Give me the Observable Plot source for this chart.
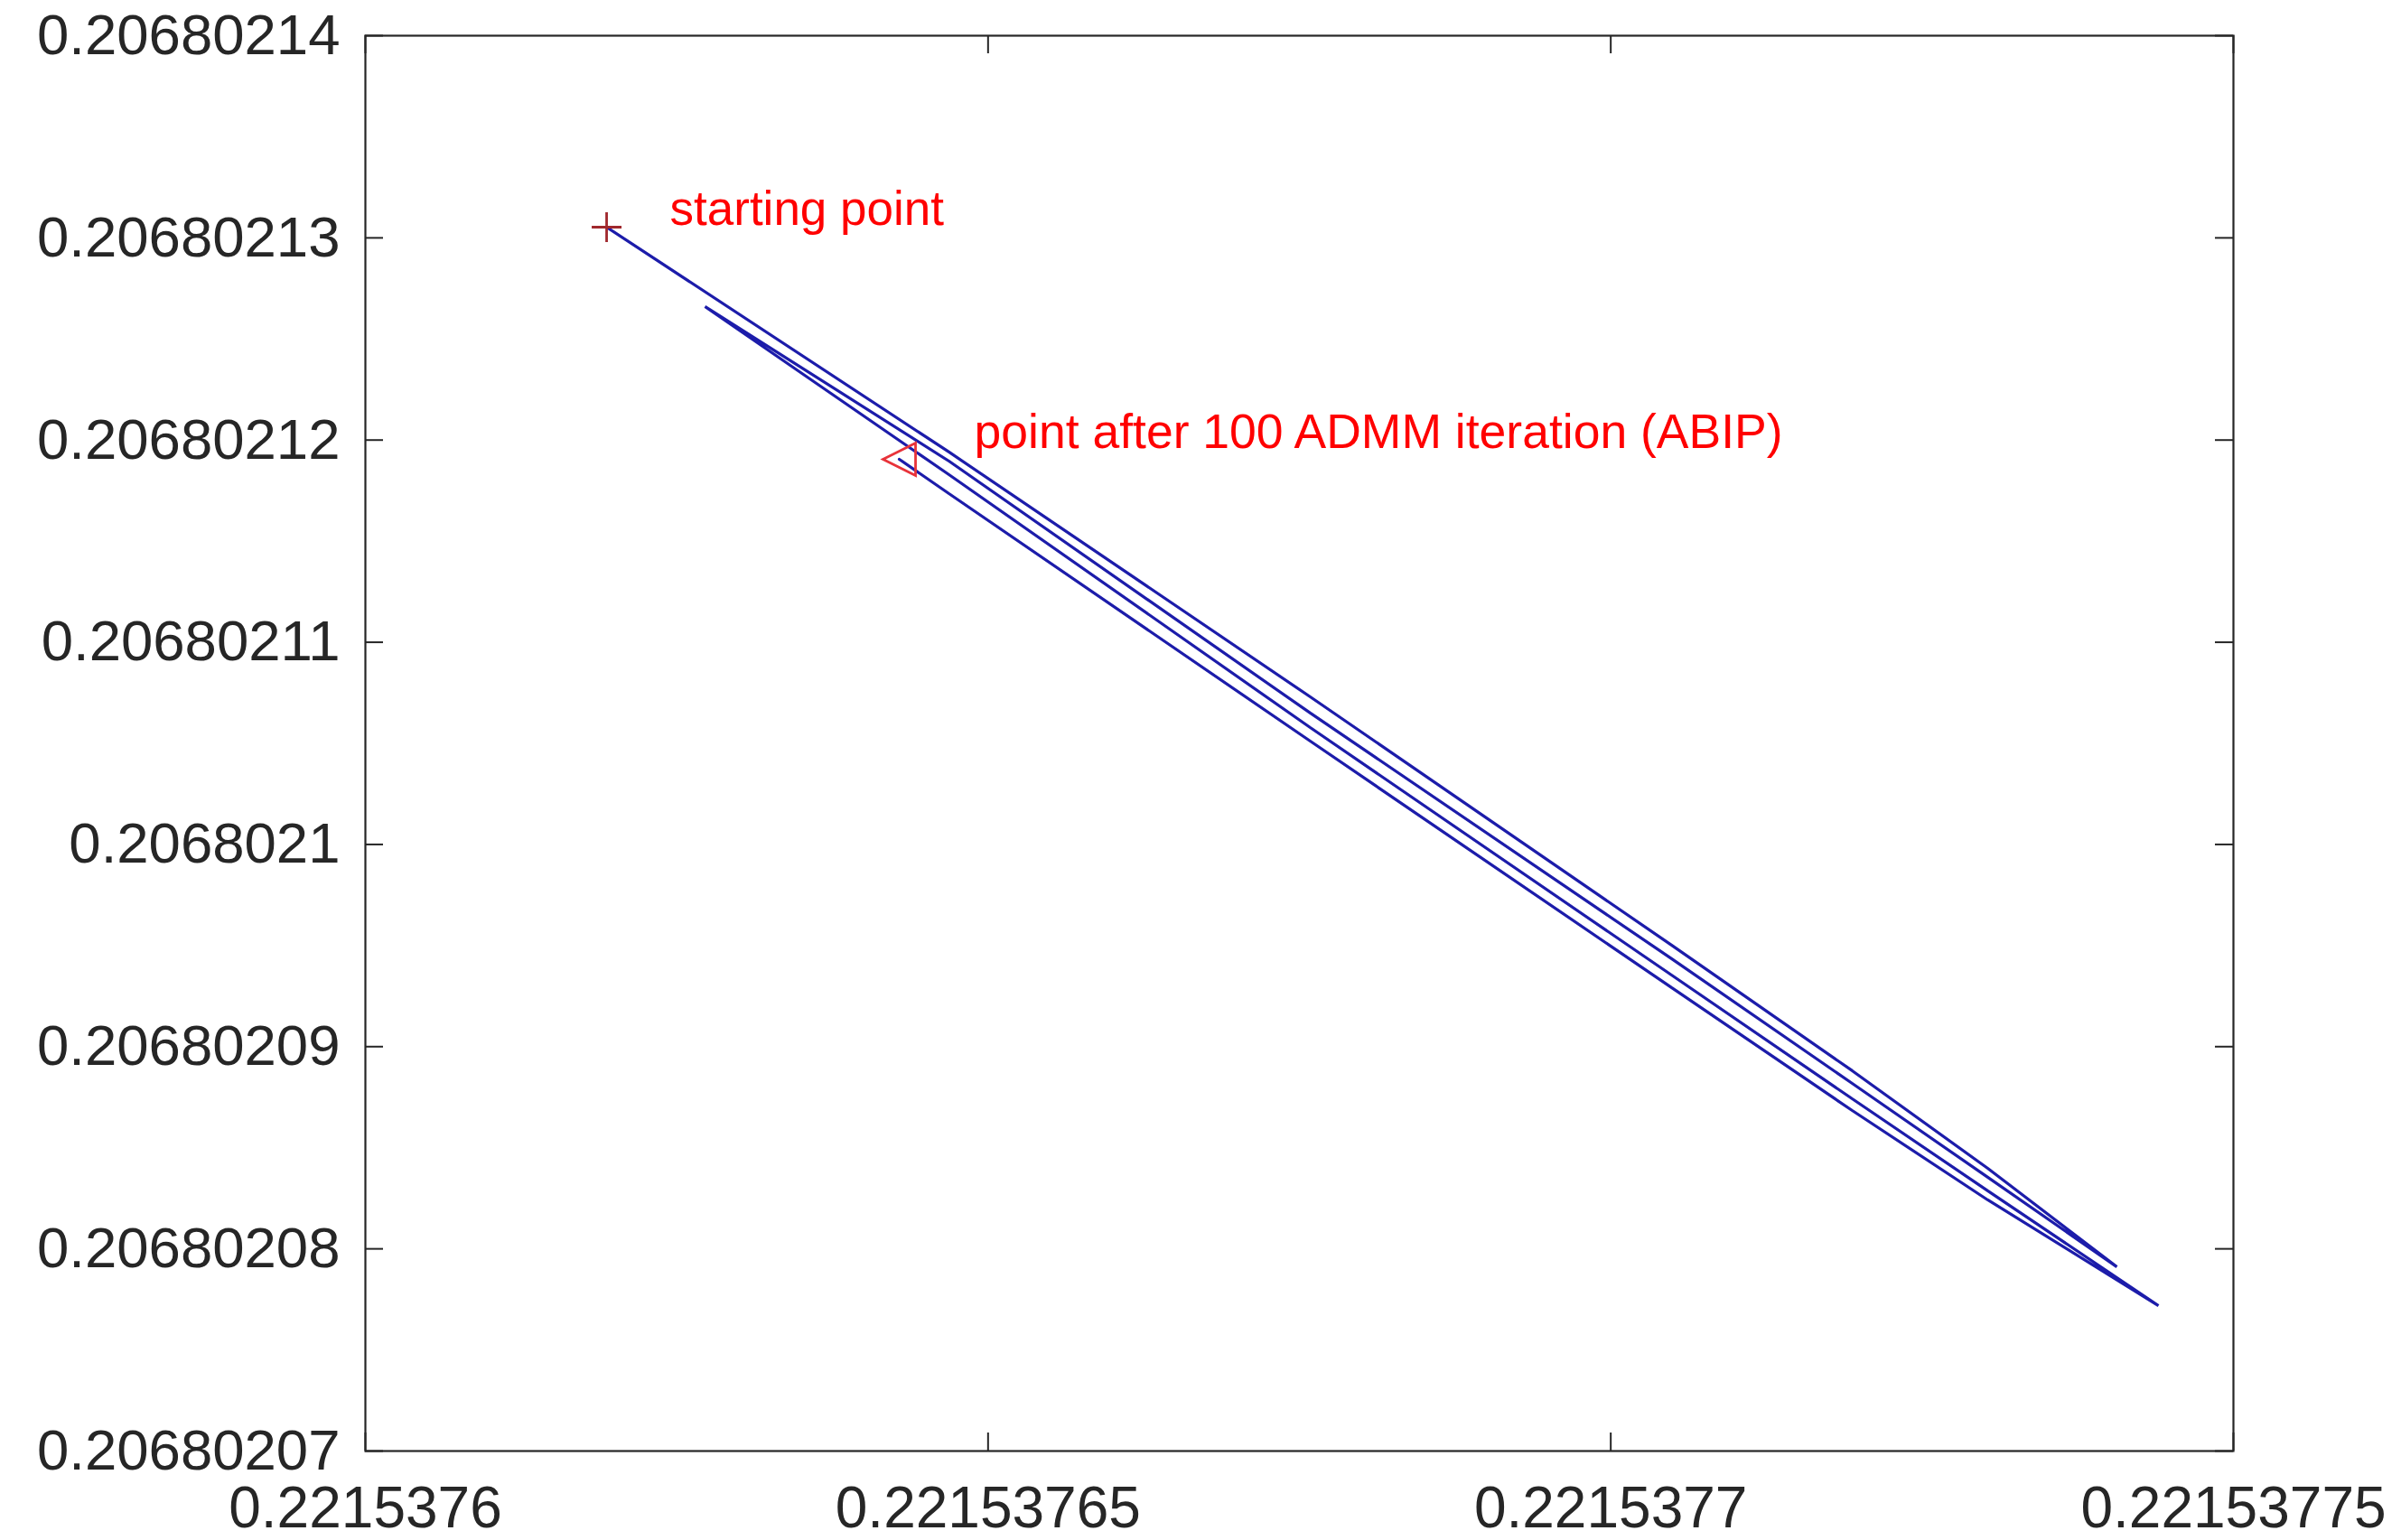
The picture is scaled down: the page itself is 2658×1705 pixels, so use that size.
<!DOCTYPE html>
<html>
<head>
<meta charset="utf-8">
<script src="https://cdn.jsdelivr.net/npm/d3@7"></script>
<script src="https://cdn.jsdelivr.net/npm/@observablehq/plot@0.6"></script>
<style>
  html, body { margin: 0; padding: 0; background: #ffffff; }
  #chart { width: 2658px; height: 1705px; }
</style>
</head>
<body>
<div id="chart"></div>
<script>
// ---- Data ----
const xTicks = [0.2215376, 0.22153765, 0.2215377, 0.22153775];
const yTicks = [0.20680207, 0.20680208, 0.20680209, 0.2068021, 0.20680211, 0.20680212, 0.20680213, 0.20680214];

// iterate trajectory (x, y)
const pathX = [
  0.22153761937, 0.22153764686, 0.22153767587, 0.22153770488, 0.22153771939, 0.22153773027, 0.22153774064,
  0.22153773027, 0.22153771939, 0.22153770488, 0.22153767587, 0.22153764686, 0.22153762727,
  0.22153764686, 0.22153767587, 0.22153770488, 0.22153771939, 0.22153773027, 0.22153774398,
  0.22153773027, 0.22153771939, 0.22153770488, 0.22153767587, 0.22153764686, 0.22153764287
];
const pathY = [
  0.20680213053, 0.20680211941, 0.20680210730, 0.20680209502, 0.20680208881, 0.20680208398, 0.20680207911,
  0.20680208354, 0.20680208818, 0.20680209435, 0.20680210650, 0.20680211896, 0.20680212660,
  0.20680211829, 0.20680210578, 0.20680209354, 0.20680208742, 0.20680208287, 0.20680207719,
  0.20680208242, 0.20680208684, 0.20680209292, 0.20680210511, 0.20680211735, 0.20680211905
];

const annotations = ["starting point", "point after 100 ADMM iteration (ABIP)"];

// ---- Layout ----
const W = 2658, H = 1705;
const mLeft = 404, mRight = 186, mTop = 39, mBottom = 99;
const innerW = W - mLeft - mRight, innerH = H - mTop - mBottom;
const tickLen = 20;
const axisColor = "#262626";
const fmt = d => String(+d.toFixed(8));

const idx = pathX.map((_, i) => i);
const first = 0, last = pathX.length - 1;

const plusSymbol = {
  draw(ctx, size) {
    const r = Math.sqrt(size / Math.PI);
    ctx.moveTo(-r, 0); ctx.lineTo(r, 0);
    ctx.moveTo(0, -r); ctx.lineTo(0, r);
  }
};
const leftTriangle = {
  draw(ctx, size) {
    const r = Math.sqrt(size / Math.PI);
    ctx.moveTo(-r, 0); ctx.lineTo(r, -r); ctx.lineTo(r, r); ctx.closePath();
  }
};

const chart = Plot.plot({
  width: W,
  height: H,
  marginLeft: mLeft,
  marginRight: mRight,
  marginTop: mTop,
  marginBottom: mBottom,
  style: { fontFamily: "'Liberation Sans', Arial, Helvetica, sans-serif", background: "#ffffff" },
  x: { domain: [xTicks[0], xTicks[xTicks.length - 1]], axis: null, label: null },
  y: { domain: [yTicks[0], yTicks[yTicks.length - 1]], axis: null, label: null },
  marks: [
    Plot.frame({ stroke: axisColor, strokeWidth: 2.2 }),
    // inward ticks on all four sides
    Plot.tickX(xTicks, { x: d => d, insetTop: innerH - tickLen, stroke: axisColor, strokeWidth: 2 }),
    Plot.tickX(xTicks, { x: d => d, insetBottom: innerH - tickLen, stroke: axisColor, strokeWidth: 2 }),
    Plot.tickY(yTicks, { y: d => d, insetRight: innerW - tickLen, stroke: axisColor, strokeWidth: 2 }),
    Plot.tickY(yTicks, { y: d => d, insetLeft: innerW - tickLen, stroke: axisColor, strokeWidth: 2 }),
    Plot.axisX(xTicks, { anchor: "bottom", tickSize: 0, tickPadding: 39, fontSize: 64, tickFormat: fmt, fill: axisColor, label: null }),
    Plot.axisY(yTicks, { anchor: "left", tickSize: 0, tickPadding: 28, fontSize: 63.5, tickFormat: fmt, fill: axisColor, label: null }),
    // trajectory
    Plot.line(idx, { x: i => pathX[i], y: i => pathY[i], stroke: "#1c1caa", strokeWidth: 3.2, strokeLinejoin: "miter" }),
    // start and end markers
    Plot.dot([first], { x: i => pathX[i], y: i => pathY[i], symbol: plusSymbol, r: 16.5, stroke: "#a0282d", strokeWidth: 2.8, fill: "none" }),
    Plot.dot([last], { x: i => pathX[i], y: i => pathY[i], symbol: leftTriangle, r: 18, stroke: "#e8333a", strokeWidth: 2.8, fill: "none" }),
    // annotations
    Plot.text([first], { x: i => pathX[i], y: i => pathY[i], text: () => annotations[0], textAnchor: "start", dx: 70, dy: -19, fill: "#ff0000", fontSize: 53 }),
    Plot.text([last], { x: i => pathX[i], y: i => pathY[i], text: () => annotations[1], textAnchor: "start", dx: 83, dy: -30, fill: "#ff0000", fontSize: 53.5 })
  ]
});

document.getElementById("chart").appendChild(chart);
</script>
</body>
</html>
